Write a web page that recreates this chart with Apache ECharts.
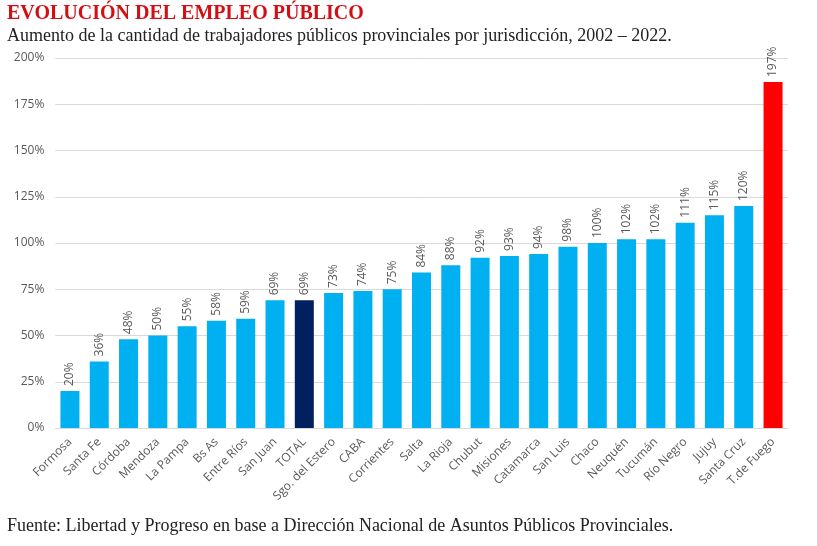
<!DOCTYPE html>
<html><head><meta charset="utf-8">
<script src="https://cdn.jsdelivr.net/npm/echarts@6/dist/echarts.min.js"></script>
<style>html,body{margin:0;padding:0;background:#fff}#c{width:817px;height:546px}</style>
</head><body><div id="c"></div>
<script>
const categories = ["Formosa","Santa Fe","Córdoba","Mendoza","La Pampa","Bs As","Entre Ríos","San Juan","TOTAL","Sgo. del Estero","CABA","Corrientes","Salta","La Rioja","Chubut","Misiones","Catamarca","San Luis","Chaco","Neuquén","Tucumán","Río Negro","Jujuy","Santa Cruz","T.de Fuego"];
const values = [20,36,48,50,55,58,59,69,69,73,74,75,84,88,92,93,94,98,100,102,102,111,115,120,187];
const valueLabels = ["20%","36%","48%","50%","55%","58%","59%","69%","69%","73%","74%","75%","84%","88%","92%","93%","94%","98%","100%","102%","102%","111%","115%","120%","197%"];
const yTicks = [0,25,50,75,100,125,150,175,200];
const highlight = {"TOTAL":"#002060","T.de Fuego":"#ff0000"};
const baseColor = "#00b0f0";

const chart = echarts.init(document.getElementById('c'), null, {renderer:'canvas'});
chart.setOption({
  animation:false,
  title:[
    {text:"EVOLUCIÓN DEL EMPLEO PÚBLICO", left:7, top:4, padding:0,
     textStyle:{fontFamily:"Liberation Serif", fontWeight:"bold", fontSize:20, color:"#d40f14"}},
    {text:"Aumento de la cantidad de trabajadores públicos provinciales por jurisdicción, 2002 – 2022.", left:7, top:27, padding:0,
     textStyle:{fontFamily:"Liberation Serif", fontWeight:"normal", fontSize:18, color:"#222"}},
    {text:"Fuente: Libertad y Progreso en base a Dirección Nacional de Asuntos Públicos Provinciales.", left:7, top:517, padding:0,
     textStyle:{fontFamily:"Liberation Serif", fontWeight:"normal", fontSize:18, color:"#222"}}
  ],
  grid:{left:55.3, right:29.3, top:58, bottom:118, containLabel:false},
  xAxis:{type:'category', data:categories,
    axisLine:{lineStyle:{color:'#d9d9d9'}}, axisTick:{show:false},
    axisLabel:{interval:0, rotate:45, fontFamily:"Open Sans", fontSize:12, color:'#595959', margin:12}},
  yAxis:{type:'value', min:yTicks[0], max:yTicks[yTicks.length-1], interval:25,
    axisLine:{show:false}, axisTick:{show:false},
    splitLine:{lineStyle:{color:'#d9d9d9'}},
    axisLabel:{formatter:'{value}%', fontFamily:"Open Sans", fontSize:12, color:'#595959', margin:11}},
  series:[{type:'bar', barWidth:19,
    data:values.map((v,i)=>({value:v, itemStyle:{color:highlight[categories[i]]||baseColor}})),
    label:{show:true, position:'top', rotate:90, align:'left', verticalAlign:'middle', distance:5,
      fontFamily:"Open Sans", fontSize:12, color:'#595959',
      formatter:p=>valueLabels[p.dataIndex]}
  }]
});
</script>
</body></html>
